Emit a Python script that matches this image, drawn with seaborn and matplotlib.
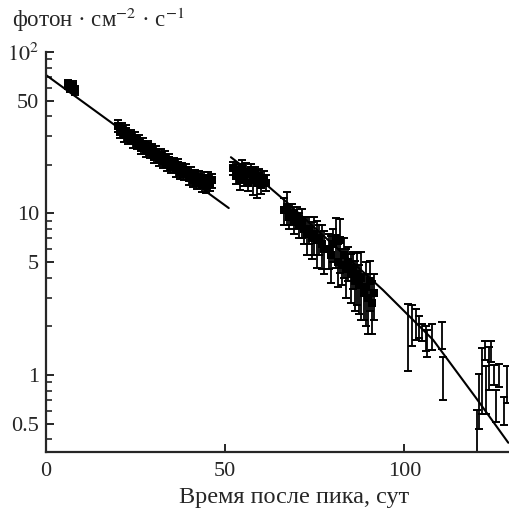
import numpy as np
import matplotlib
matplotlib.use('Agg')
import matplotlib.pyplot as plt
from matplotlib.ticker import FixedLocator, FixedFormatter, NullFormatter
import seaborn as sns

# measured points: days after peak, flux, error
days_a = [6.2, 6.8, 7.4, 8.0]
flux_a = [63, 60, 62, 58]
err_a = [4, 3.5, 4, 3.5]

days_b = [20.0, 20.6, 21.2, 21.8, 22.4, 23.0, 23.6, 24.2, 24.8, 25.4, 26.0, 26.6, 27.2, 27.8, 28.4,
          29.0, 29.6, 30.2, 30.8, 31.4, 32.0, 32.6, 33.2, 33.8, 34.4, 35.0, 35.6, 36.2, 36.8, 37.4,
          38.0, 38.6, 39.2, 39.8, 40.4, 41.0, 41.6, 42.2, 42.8, 43.4, 44.0, 44.6, 45.2, 45.8, 46.4]
flux_b = [35, 32, 33.5, 30.5, 32.5, 29.5, 30.5, 28, 29.5, 27.5, 28, 25.5, 27, 24.5, 26,
          24, 25, 22.5, 24, 21.5, 23, 21, 22.5, 20, 21.5, 19.5, 20.5, 18.5, 20, 18,
          19, 17.5, 18.5, 16.5, 17.8, 16, 17.2, 15.5, 16.8, 15, 16.5, 14.8, 16.5, 15.2, 16]
err_b = [3, 2.8, 3, 2.6, 2.8, 2.5, 2.6, 2.4, 2.5, 2.3, 2.4, 2.2, 2.3, 2.1, 2.2,
         2.0, 2.1, 1.9, 2.0, 1.8, 1.9, 1.8, 1.9, 1.7, 1.8, 1.7, 1.7, 1.6, 1.7, 1.6,
         1.6, 1.5, 1.6, 1.5, 1.5, 1.5, 1.5, 1.4, 1.5, 1.4, 1.5, 1.4, 1.6, 1.5, 1.6]

days_c = [52.3, 52.9, 53.5, 54.1, 54.7, 55.3, 55.9, 56.5, 57.1, 57.7, 58.3, 58.9, 59.5, 60.1, 60.7, 61.3]
flux_c = [19, 17, 18.5, 16, 19.5, 16.5, 18, 15.5, 18.5, 16, 17.5, 15.5, 17, 15, 16.5, 15.5]
err_c = [1.8, 1.8, 1.8, 2.0, 1.8, 1.8, 2.5, 1.8, 1.8, 3.0, 1.8, 3.0, 1.8, 1.8, 1.8, 1.8]

days_d = [66.5, 67.2, 67.9, 68.6, 69.3, 70.0, 70.7, 71.4, 72.1, 72.8, 73.5, 74.2, 74.9, 75.6, 76.3, 77.0, 77.7]
flux_d = [10.5, 11, 9.5, 10, 9, 9.5, 8.5, 8.8, 8, 7.5, 8, 7, 7.5, 6.8, 7, 6.5, 6]
err_d = [2.0, 2.5, 1.5, 1.5, 1.5, 1.5, 1.5, 1.8, 1.5, 2.0, 1.5, 1.8, 2.0, 2.2, 1.5, 2.0, 1.8]

days_e = [79.0, 79.6, 80.2, 80.8, 81.4, 82.0, 82.6, 83.2, 83.8, 84.4, 85.0, 85.6, 86.2, 86.8,
          87.4, 88.0, 88.6, 89.2, 89.8, 90.4, 91.0, 91.6]
flux_e = [6, 5.5, 6.5, 7, 5, 6.8, 4.8, 5.5, 4.5, 5, 4.2, 4.6, 3.8, 4.2,
          3.6, 4.0, 3.2, 3.5, 3.0, 3.8, 2.8, 3.2]
err_e = [1.5, 1.8, 1.5, 2.4, 1.5, 2.5, 1.2, 1.5, 1.5, 1.2, 1.4, 1.2, 1.3, 1.5,
         1.2, 1.8, 1.0, 1.5, 1.2, 1.3, 1.0, 1.0]

days_f = [101.1, 102.1, 103.2, 104.2, 105.0, 106.0, 106.4, 107.7, 110.4, 110.8]
flux_f = [1.9, 2.1, 2.1, 2.0, 1.85, 1.7, 1.6, 1.75, 1.78, 1.0]
err_f = [0.85, 0.6, 0.45, 0.3, 0.22, 0.3, 0.3, 0.33, 0.34, 0.3]

days_g = [120.3, 120.8, 121.8, 122.5, 122.9, 123.5, 124.2, 125.0, 125.5, 126.3, 127.8, 128.6]
flux_g = [0.32, 0.74, 1.02, 1.43, 0.85, 1.15, 1.42, 1.01, 0.66, 1.0, 0.61, 0.9]
err_g = [0.29, 0.28, 0.45, 0.19, 0.28, 0.34, 0.21, 0.14, 0.15, 0.16, 0.12, 0.23]

# fitted curves
fit1_days = [0, 51]
fit1_flux = [72, 10.8]
fit2_days = [51.6, 61, 66.5, 94, 108, 120, 129]
fit2_flux = [22.3, 15.4, 12.1, 3.36, 1.65, 0.72, 0.38]

dense_days = days_a + days_b + days_c + days_d + days_e
dense_flux = flux_a + flux_b + flux_c + flux_d + flux_e
days = dense_days + days_f + days_g
flux = dense_flux + flux_f + flux_g
err = err_a + err_b + err_c + err_d + err_e + err_f + err_g

sns.set_style('ticks')
plt.rcParams['font.family'] = ['Liberation Serif', 'DejaVu Serif']
plt.rcParams['mathtext.fontset'] = 'stix'

fig = plt.figure(figsize=(5.09, 5.13), dpi=100)
ax = fig.add_axes([46/509, (513-452)/513, 1 - 46/509, (452-52)/513])

ax.errorbar(days, flux, yerr=err, fmt='none', ecolor='black', elinewidth=1.3,
            capsize=3, capthick=1.4, zorder=2)
sns.scatterplot(x=dense_days, y=dense_flux, marker='s', s=26, color='black', linewidth=0, ax=ax, zorder=3)
sns.lineplot(x=fit1_days, y=fit1_flux, color='black', lw=1.5, sort=False, ax=ax)
sns.lineplot(x=fit2_days, y=fit2_flux, color='black', lw=1.5, sort=False, ax=ax)

ax.set_yscale('log')
ax.set_xlim(0, 129.2)
ax.set_ylim(0.333, 100)
ax.yaxis.set_major_locator(FixedLocator([0.5, 1, 5, 10, 50, 100]))
ax.yaxis.set_major_formatter(FixedFormatter(['0.5', '1', '5', '10', '50', '$10^2$']))
ax.yaxis.set_minor_locator(FixedLocator([0.4, 0.6, 0.7, 0.8, 0.9, 2, 3, 4, 6, 7, 8, 9,
                                         20, 30, 40, 60, 70, 80, 90]))
ax.yaxis.set_minor_formatter(NullFormatter())
ax.set_xticks([0, 50, 100])
ax.set_xticklabels(['0', '50', '100'])
ax.tick_params(axis='both', which='major', direction='in', length=5.5, width=1.4,
               labelsize=16, pad=5)
ax.tick_params(axis='y', which='minor', direction='in', length=4, width=1.2)
ax.tick_params(axis='x', which='major', pad=7)
ax.set_xlabel('')
ax.set_ylabel('')
for s in ['top', 'right']:
    ax.spines[s].set_visible(False)
for s in ['left', 'bottom']:
    ax.spines[s].set_linewidth(1.6)

fig.text(12/509, 1 - 27/513, 'фотон · см$^{-2}$ · с$^{-1}$', fontsize=16.5, va='baseline', ha='left')
fig.text(294/509, 1 - 503/513, 'Время после пика, сут', fontsize=17.5, va='baseline', ha='center')

fig.savefig('out.png', dpi=100)
